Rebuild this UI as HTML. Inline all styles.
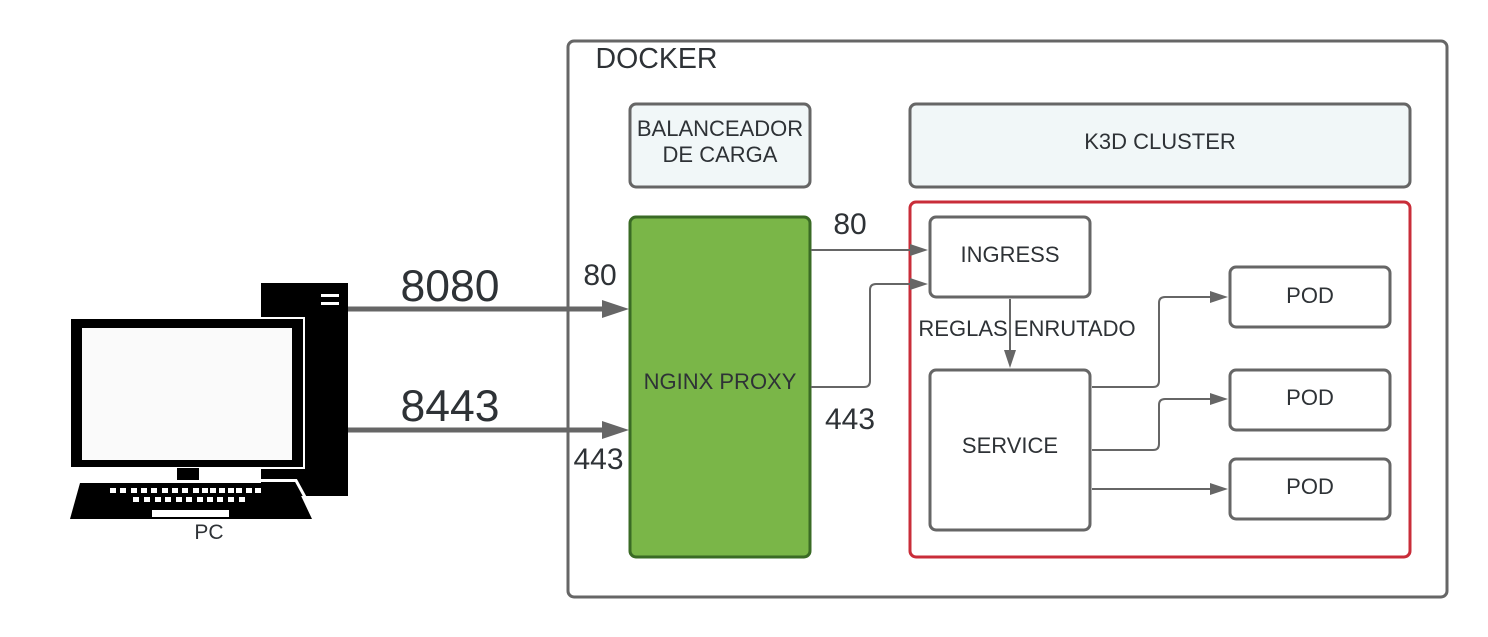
<!DOCTYPE html>
<html>
<head>
<meta charset="utf-8">
<style>
html,body{margin:0;padding:0;background:#fff;width:1488px;height:637px;overflow:hidden}
svg{display:block}
text{font-family:"Liberation Sans",sans-serif;fill:#2e3236;text-anchor:middle}
</style>
</head>
<body>
<svg width="1488" height="637" viewBox="0 0 1488 637" xmlns="http://www.w3.org/2000/svg">
<rect width="1488" height="637" fill="#fff"/>

<!-- Docker -->
<rect x="568" y="41" width="879" height="556" rx="6" fill="#fff" stroke="#666" stroke-width="3"/>
<text x="656.500" y="68" font-size="28.500">DOCKER</text>

<!-- top boxes -->
<rect x="630" y="104" width="180" height="83" rx="6" fill="#f1f7f8" stroke="#666" stroke-width="3"/>
<text x="720" y="136" font-size="22">BALANCEADOR</text>
<text x="720" y="162" font-size="22">DE CARGA</text>
<rect x="910" y="104" width="500" height="83" rx="6" fill="#f1f7f8" stroke="#666" stroke-width="3"/>
<text x="1160" y="149" font-size="22">K3D CLUSTER</text>

<!-- nginx -->
<rect x="630" y="217" width="180" height="340" rx="6" fill="#7ab648" stroke="#3a6b25" stroke-width="3"/>
<text x="720" y="389" font-size="22">NGINX PROXY</text>

<!-- red cluster -->
<rect x="910" y="202" width="500" height="355" rx="6" fill="#fff" stroke="#c92d39" stroke-width="3"/>

<!-- inner boxes -->
<rect x="930" y="217" width="160" height="80" rx="6" fill="#fff" stroke="#666" stroke-width="3"/>
<text x="1010" y="262" font-size="22">INGRESS</text>
<rect x="930" y="370" width="160" height="160" rx="6" fill="#fff" stroke="#666" stroke-width="3"/>
<text x="1010" y="453" font-size="22">SERVICE</text>
<rect x="1230" y="267" width="160" height="60" rx="6" fill="#fff" stroke="#666" stroke-width="3"/>
<text x="1310" y="303" font-size="22">POD</text>
<rect x="1230" y="370" width="160" height="60" rx="6" fill="#fff" stroke="#666" stroke-width="3"/>
<text x="1310" y="405" font-size="22">POD</text>
<rect x="1230" y="459" width="160" height="60" rx="6" fill="#fff" stroke="#666" stroke-width="3"/>
<text x="1310" y="494" font-size="22">POD</text>

<!-- connectors -->
<g fill="none" stroke="#666" stroke-width="2">
<path d="M811 250H912"/>
<path d="M811 387H864Q870 387 870 381V290Q870 284 876 284H912"/>
<path d="M1010 299V352"/>
<path d="M1092 387H1153Q1159 387 1159 381V303Q1159 297 1165 297H1212"/>
<path d="M1092 450H1153Q1159 450 1159 444V405Q1159 399 1165 399H1212"/>
<path d="M1092 489H1212"/>
</g>
<g fill="#666">
<polygon points="928,250 910,244 910,256"/>
<polygon points="928,284 910,278 910,290"/>
<polygon points="1010,368 1004,350 1016,350"/>
<polygon points="1228,297 1210,291 1210,303"/>
<polygon points="1228,399 1210,393 1210,405"/>
<polygon points="1228,489 1210,483 1210,495"/>
</g>
<text x="1027" y="336" font-size="22">REGLAS ENRUTADO</text>

<!-- thick arrows -->
<path d="M347 309H606" stroke="#666" stroke-width="5" fill="none"/>
<path d="M347 430H606" stroke="#666" stroke-width="5" fill="none"/>
<polygon points="629,309 602,300 602,318" fill="#666"/>
<polygon points="629,430 602,421 602,439" fill="#666"/>
<text x="450" y="301" font-size="44.500">8080</text>
<text x="450" y="421" font-size="44.500">8443</text>
<text x="600" y="285" font-size="30">80</text>
<text x="598.500" y="469" font-size="30">443</text>
<text x="850" y="234" font-size="30">80</text>
<text x="850" y="429" font-size="30">443</text>

<!-- PC -->
<rect x="261" y="283" width="87" height="213" fill="#000"/>
<rect x="321" y="294" width="18" height="3" fill="#fff"/>
<rect x="321" y="302" width="18" height="3" fill="#fff"/>
<rect x="69" y="317" width="236" height="152" fill="#fff"/>
<rect x="71" y="319" width="232" height="148" fill="#000"/>
<rect x="82" y="328" width="210" height="132" fill="#fafafa"/>
<rect x="177" y="468" width="22" height="12" fill="#000"/>
<polygon points="80,483 295,483 312,519 70,519" fill="#000"/>
<path d="M261 480.500H296L305 497" fill="none" stroke="#fff" stroke-width="3"/>
<g fill="#fff">
<rect x="110" y="488" width="6" height="5"/><rect x="120" y="488" width="6" height="5"/><rect x="131" y="488" width="6" height="5"/><rect x="141" y="488" width="6" height="5"/><rect x="151" y="488" width="6" height="5"/><rect x="162" y="488" width="6" height="5"/><rect x="172" y="488" width="6" height="5"/><rect x="182" y="488" width="6" height="5"/><rect x="193" y="488" width="6" height="5"/><rect x="202" y="488" width="6" height="5"/><rect x="210" y="488" width="6" height="5"/><rect x="219" y="488" width="6" height="5"/><rect x="228" y="488" width="6" height="5"/><rect x="236" y="488" width="6" height="5"/><rect x="246" y="488" width="6" height="5"/><rect x="255" y="488" width="6" height="5"/>
<rect x="133" y="497" width="6" height="5"/><rect x="144" y="497" width="6" height="5"/><rect x="155" y="497" width="6" height="5"/><rect x="165" y="497" width="6" height="5"/><rect x="176" y="497" width="6" height="5"/><rect x="186" y="497" width="6" height="5"/><rect x="197" y="497" width="6" height="5"/><rect x="207" y="497" width="6" height="5"/><rect x="217" y="497" width="6" height="5"/><rect x="228" y="497" width="6" height="5"/><rect x="239" y="497" width="6" height="5"/>
<rect x="152" y="510" width="77" height="7"/>
</g>
<text x="209" y="539" font-size="21">PC</text>
</svg>
</body>
</html>
